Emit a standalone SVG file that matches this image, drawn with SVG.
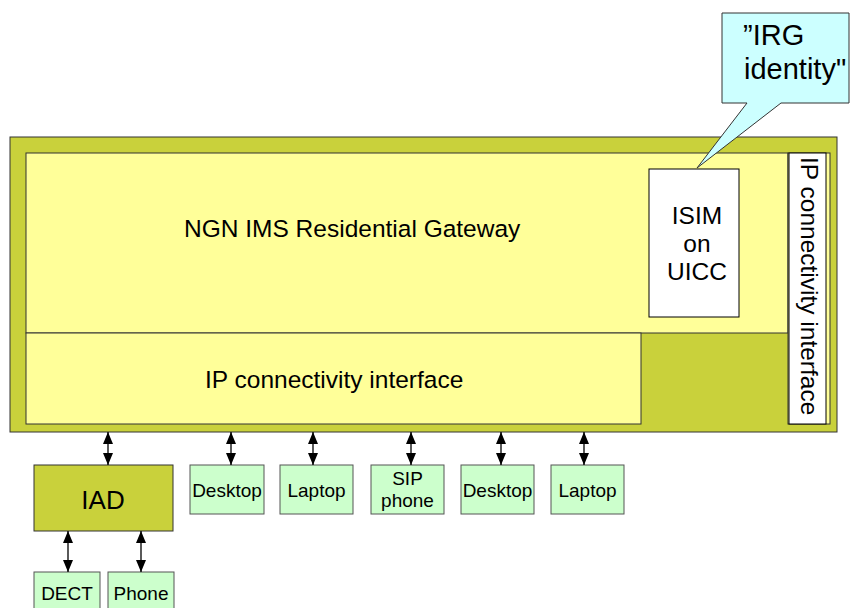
<svg xmlns="http://www.w3.org/2000/svg" width="850" height="608" viewBox="0 0 850 608">
<defs>
<marker id="ah" viewBox="0 0 12 10" refX="12" refY="5" markerWidth="12" markerHeight="10" markerUnits="userSpaceOnUse" orient="auto-start-reverse">
<path d="M0,0 L12,5 L0,10 z" fill="#000"/>
</marker>
<style>
text{font-family:"Liberation Sans",Arial,sans-serif;fill:#000}
.olive{fill:#C9D13B;stroke:#333;stroke-width:1}
.yel{fill:#FFFF99;stroke:#333;stroke-width:1}
.wht{fill:#FFFFFF;stroke:#000;stroke-width:1}
.grn{fill:#CCFFCC;stroke:#555;stroke-width:1}
.conn{stroke:#000;stroke-width:1.3;fill:none;marker-start:url(#ah);marker-end:url(#ah)}
.big{font-size:24.5px}
.sm{font-size:19px}
</style>
</defs>
<rect width="850" height="608" fill="#fff"/>
<g id="gateway">
<rect class="olive" x="10" y="137" width="827" height="295"/>
<rect class="yel" x="26" y="153" width="762" height="180"/>
<text class="big" x="184" y="237">NGN IMS Residential Gateway</text>
</g>
<g id="ip-interface-bottom">
<rect class="yel" x="26" y="333" width="615" height="91"/>
<text class="big" x="205" y="388">IP connectivity interface</text>
</g>
<g id="ip-interface-side">
<rect class="yel" x="788" y="153" width="42" height="271"/>
<rect class="wht" x="789" y="153" width="37" height="271"/>
<text class="big" transform="translate(801,157) rotate(90)">IP connectivity interface</text>
</g>
<g id="isim">
<rect class="wht" x="649" y="169" width="90" height="148"/>
<text class="big" x="697" y="224" text-anchor="middle">ISIM</text>
<text class="big" x="697" y="252" text-anchor="middle">on</text>
<text class="big" x="697" y="280" text-anchor="middle">UICC</text>
</g>
<g id="callout">
<path d="M722,13 L849,13 L849,103 L781,103 L697,168 L747,103 L722,103 Z" fill="#CCFFFF" stroke="#333" stroke-width="1"/>
<text x="743" y="45" font-size="29">”IRG</text>
<text x="744" y="79" font-size="29">identity"</text>
</g>
<g id="iad">
<rect class="olive" x="34" y="465" width="139" height="66"/>
<text x="103" y="509" font-size="26" text-anchor="middle">IAD</text>
</g>
<g id="desktop1">
<rect class="grn" x="190" y="465" width="74" height="49"/>
<text class="sm" x="227" y="497" text-anchor="middle">Desktop</text>
</g>
<g id="laptop1">
<rect class="grn" x="280" y="465" width="73" height="49"/>
<text class="sm" x="316.5" y="497" text-anchor="middle">Laptop</text>
</g>
<g id="sipphone">
<rect class="grn" x="371" y="465" width="73" height="49"/>
<text class="sm" x="407.5" y="485" text-anchor="middle">SIP</text>
<text class="sm" x="407.5" y="507" text-anchor="middle">phone</text>
</g>
<g id="desktop2">
<rect class="grn" x="461" y="465" width="73" height="49"/>
<text class="sm" x="497.5" y="497" text-anchor="middle">Desktop</text>
</g>
<g id="laptop2">
<rect class="grn" x="551" y="465" width="73" height="49"/>
<text class="sm" x="587.5" y="497" text-anchor="middle">Laptop</text>
</g>
<g id="dect">
<rect class="grn" x="34" y="572" width="66" height="42"/>
<text class="sm" x="67" y="600" text-anchor="middle">DECT</text>
</g>
<g id="phone">
<rect class="grn" x="108" y="572" width="66" height="42"/>
<text class="sm" x="141" y="600" text-anchor="middle">Phone</text>
</g>
<g id="connectors">
<line class="conn" x1="108" y1="432" x2="108" y2="465"/>
<line class="conn" x1="231" y1="432" x2="231" y2="465"/>
<line class="conn" x1="313" y1="432" x2="313" y2="465"/>
<line class="conn" x1="411" y1="432" x2="411" y2="465"/>
<line class="conn" x1="501" y1="432" x2="501" y2="465"/>
<line class="conn" x1="584" y1="432" x2="584" y2="465"/>
<line class="conn" x1="68" y1="531" x2="68" y2="572"/>
<line class="conn" x1="141" y1="531" x2="141" y2="572"/>
</g>
</svg>
